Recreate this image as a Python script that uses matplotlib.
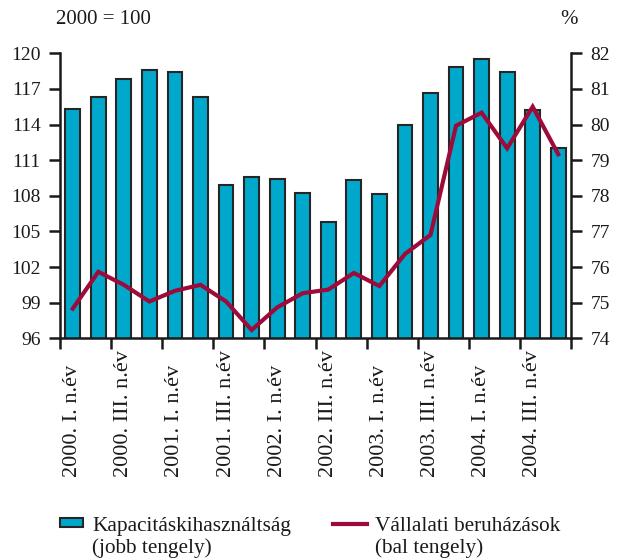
import matplotlib
matplotlib.use("Agg")
import matplotlib.pyplot as plt
import matplotlib.transforms as mtransforms
from matplotlib.patches import Rectangle
from matplotlib.lines import Line2D
import numpy as np

plt.rcParams['font.family'] = ['Liberation Serif', 'DejaVu Serif']

quarters = ["2000. I. n.év", "2000. II. n.év", "2000. III. n.év", "2000. IV. n.év",
            "2001. I. n.év", "2001. II. n.év", "2001. III. n.év", "2001. IV. n.év",
            "2002. I. n.év", "2002. II. n.év", "2002. III. n.év", "2002. IV. n.év",
            "2003. I. n.év", "2003. II. n.év", "2003. III. n.év", "2003. IV. n.év",
            "2004. I. n.év", "2004. II. n.év", "2004. III. n.év", "2004. IV. n.év"]

# Capacity utilisation, % (right axis)
kapacitas = [80.45, 80.77, 81.28, 81.53, 81.48, 80.77, 78.29, 78.53, 78.48, 78.07,
             77.27, 78.44, 78.06, 79.98, 80.89, 81.62, 81.85, 81.48, 80.41, 79.33]
# Corporate investment, 2000 = 100 (left axis)
beruhazas = [98.5, 101.6, 100.5, 99.1, 100.0, 100.5, 99.1, 96.7, 98.6, 99.8,
             100.1, 101.5, 100.4, 103.1, 104.7, 113.9, 115.0, 112.0, 115.5, 111.5]

left_ticks = [96, 99, 102, 105, 108, 111, 114, 117, 120]
right_ticks = [74, 75, 76, 77, 78, 79, 80, 81, 82]

legend_bar = ["Kapacitáskihasználtság", "(jobb tengely)"]
legend_line = ["Vállalati beruházások", "(bal tengely)"]

bar_color = "#00A8CB"
line_color = "#9E0B3B"
ink = "#1a1a1a"

W, H = 619, 558
fig = plt.figure(figsize=(W / 100, H / 100), dpi=100)
x0, x1 = 60 / W, 571 / W
y_top, y_bot = 53.3, 338.3
ax = fig.add_axes([x0, 1 - y_bot / H, x1 - x0, (y_bot - y_top) / H])
ax2 = ax.twinx()

x = np.arange(len(quarters))
ax2.bar(x, kapacitas, width=0.58, color=bar_color, edgecolor="#262626", linewidth=1.5, zorder=2)
ax2.set_ylim(74, 82)
ax2.set_yticks(right_ticks)

ax.plot(x, beruhazas, color=line_color, linewidth=3.0, zorder=5, solid_joinstyle='miter')
ax.set_ylim(96, 120)
ax.set_yticks(left_ticks)
ax.set_xlim(-0.5, len(quarters) - 0.5)

ax.set_zorder(ax2.get_zorder() + 1)
ax.patch.set_visible(False)

for a in (ax, ax2):
    a.spines['top'].set_visible(False)
    for s in a.spines.values():
        s.set_linewidth(1.8)
        s.set_color(ink)
ax2.spines['left'].set_visible(False)
ax2.spines['bottom'].set_visible(False)
ax.spines['right'].set_visible(False)

ax.tick_params(axis='y', direction='out', length=8, width=1.8, labelsize=14, pad=6, colors=ink)
ax2.tick_params(axis='y', direction='out', length=8, width=1.8, labelsize=14, pad=6, colors=ink)

ax.set_xticks(np.arange(-0.5, len(quarters), 2))
ax.set_xticklabels([])
ax.tick_params(axis='x', direction='out', length=8, width=1.8, colors=ink)

trans = mtransforms.blended_transform_factory(ax.transData, ax.transAxes)
label_y = -(477 - y_bot) / (y_bot - y_top)
for i in range(0, len(quarters), 2):
    ax.text(x[i], label_y, quarters[i], rotation=90, ha='center', va='bottom',
            fontsize=16, transform=trans, color=ink)

fig.text(56 / W, 1 - 20 / H, "2000 = 100", fontsize=15, ha='left', va='center', color=ink)
fig.text(569 / W, 1 - 20 / H, "%", fontsize=15, ha='center', va='center', color=ink)

# legend (drawn by hand so the key aligns with the first text line)
fig.patches.append(Rectangle((60 / W, 1 - 527 / H), 23 / W, 9 / H, transform=fig.transFigure,
                             facecolor=bar_color, edgecolor="#262626", linewidth=1.5))
fig.lines.append(Line2D([333 / W, 367 / W], [1 - 524 / H, 1 - 524 / H], transform=fig.transFigure,
                        color=line_color, linewidth=3.0))
lfs = 15.3
fig.text(92 / W, 1 - 531 / H, legend_bar[0], fontsize=lfs, va='baseline', ha='left', color=ink)
fig.text(92 / W, 1 - 553 / H, legend_bar[1], fontsize=lfs, va='baseline', ha='left', color=ink)
fig.text(375 / W, 1 - 531 / H, legend_line[0], fontsize=lfs, va='baseline', ha='left', color=ink)
fig.text(375 / W, 1 - 553 / H, legend_line[1], fontsize=lfs, va='baseline', ha='left', color=ink)

fig.savefig("out.png", dpi=100)
